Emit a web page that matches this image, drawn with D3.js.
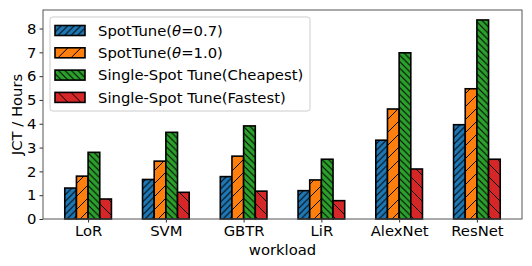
<!DOCTYPE html>
<html>
<head>
<meta charset="utf-8">
<script src="https://cdn.jsdelivr.net/npm/d3@7"></script>
<style>
  body { margin: 0; background: #fff; }
  text { font-family: "DejaVu Sans", sans-serif; }
</style>
</head>
<body>
<svg id="chart" width="532" height="266"></svg>
<script>
// ######## data
const workloads = ["LoR", "SVM", "GBTR", "LiR", "AlexNet", "ResNet"];
const seriesNames = ["SpotTune(θ=0.7)", "SpotTune(θ=1.0)", "Single-Spot Tune(Cheapest)", "Single-Spot Tune(Fastest)"];
const spotTune07 = [1.30, 1.66, 1.78, 1.19, 3.31, 3.96];
const spotTune10 = [1.80, 2.43, 2.64, 1.64, 4.62, 5.47];
const cheapest   = [2.80, 3.64, 3.91, 2.51, 6.98, 8.36];
const fastest    = [0.84, 1.12, 1.17, 0.77, 2.10, 2.51];
const yTicks = [0, 1, 2, 3, 4, 5, 6, 7, 8];

const allSeries = [spotTune07, spotTune10, cheapest, fastest];
const colors = ["#1f77b4", "#ff7f0e", "#2ca02c", "#d62728"];
// hatch: direction and spacing ( '//', '/', '\\\\', '\\' )
const hatches = [{dir: 1, gap: 6.5}, {dir: 1, gap: 13}, {dir: -1, gap: 6.5}, {dir: -1, gap: 13}];
const FS = 14.8;

const svg = d3.select("#chart");
const margin = {left: 43, right: 10, top: 10, bottom: 47};
const W = 532, H = 266;

// matplotlib style x: bar width 0.15, margins 5%
const barW = 0.15;
const x = d3.scaleLinear()
    .domain([-0.3 - 0.28, workloads.length - 1 + 0.3 + 0.28])
    .range([margin.left, W - margin.right]);
const yMax = 8.36 * 1.05;
const y = d3.scaleLinear().domain([0, yMax]).range([H - margin.bottom, margin.top]);

// ######## hatch patterns
const defs = svg.append("defs");
hatches.forEach((h, i) => {
    const p = defs.append("pattern")
        .attr("id", "hatch" + i)
        .attr("patternUnits", "userSpaceOnUse")
        .attr("width", h.gap).attr("height", h.gap);
    p.append("rect").attr("width", h.gap).attr("height", h.gap).attr("fill", colors[i]);
    const g = h.gap;
    const lines = h.dir > 0
        ? [[0, g, g, 0], [-g, g, g, -g], [0, 2 * g, 2 * g, 0]]
        : [[0, 0, g, g], [-g, 0, g, 2 * g], [0, -g, 2 * g, g]];
    lines.forEach(l => p.append("line")
        .attr("x1", l[0]).attr("y1", l[1]).attr("x2", l[2]).attr("y2", l[3])
        .attr("stroke", "#000").attr("stroke-width", 1));
});

// ######## bars
allSeries.forEach((vals, s) => {
    const off = (s - 1.5) * barW;
    svg.append("g").selectAll("rect")
        .data(vals)
        .join("rect")
        .attr("x", (d, i) => x(i + off - barW / 2))
        .attr("width", x(barW) - x(0))
        .attr("y", d => y(d))
        .attr("height", d => y(0) - y(d))
        .attr("fill", "url(#hatch" + s + ")")
        .attr("stroke", "#000")
        .attr("stroke-width", 1.6);
});

// ######## axes
const xAxis = d3.axisBottom(x)
    .tickValues(workloads.map((d, i) => i))
    .tickFormat(i => workloads[i])
    .tickSize(3.5).tickPadding(3);
const yAxis = d3.axisLeft(y).tickValues(yTicks).tickSize(3.5).tickPadding(3);

const gx = svg.append("g").attr("transform", `translate(0,${H - margin.bottom})`).call(xAxis);
const gy = svg.append("g").attr("transform", `translate(${margin.left},0)`).call(yAxis);
[gx, gy].forEach(g => {
    g.select(".domain").remove();
    g.selectAll("text").attr("font-size", FS).attr("fill", "#000")
        .style("font-family", "DejaVu Sans, sans-serif");
    g.selectAll("line").attr("stroke", "#333");
});

// frame
svg.append("rect")
    .attr("x", margin.left).attr("y", margin.top)
    .attr("width", W - margin.left - margin.right)
    .attr("height", H - margin.top - margin.bottom)
    .attr("fill", "none").attr("stroke", "#555").attr("stroke-width", 1);

// axis labels
svg.append("text")
    .attr("x", (margin.left + W - margin.right) / 2).attr("y", 254.5)
    .attr("text-anchor", "middle").attr("font-size", FS).text("workload");
svg.append("text")
    .attr("transform", `translate(16,${(margin.top + H - margin.bottom) / 2}) rotate(-90)`)
    .attr("text-anchor", "middle").attr("dominant-baseline", "central")
    .attr("font-size", FS).text("JCT / Hours");

// ######## legend
const leg = svg.append("g").attr("transform", "translate(50,17)");
leg.append("rect")
    .attr("width", 260).attr("height", 94).attr("rx", 2.5)
    .attr("fill", "#fff").attr("fill-opacity", 0.8)
    .attr("stroke", "#ccc").attr("stroke-width", 1);
seriesNames.forEach((name, i) => {
    const row = leg.append("g").attr("transform", `translate(0,${13.5 + i * 22.3})`);
    row.append("rect")
        .attr("x", 5).attr("y", -5).attr("width", 30).attr("height", 10)
        .attr("fill", "url(#hatch" + i + ")")
        .attr("stroke", "#000").attr("stroke-width", 1.6);
    const t = row.append("text").attr("x", 48).attr("y", 5.3).attr("font-size", FS);
    const m = name.match(/^(.*\()θ(.*)$/);
    if (m) {
        t.append("tspan").text(m[1]);
        t.append("tspan").attr("font-style", "italic").text("θ");
        t.append("tspan").text(m[2]);
    } else {
        t.text(name);
    }
});
</script>
</body>
</html>
